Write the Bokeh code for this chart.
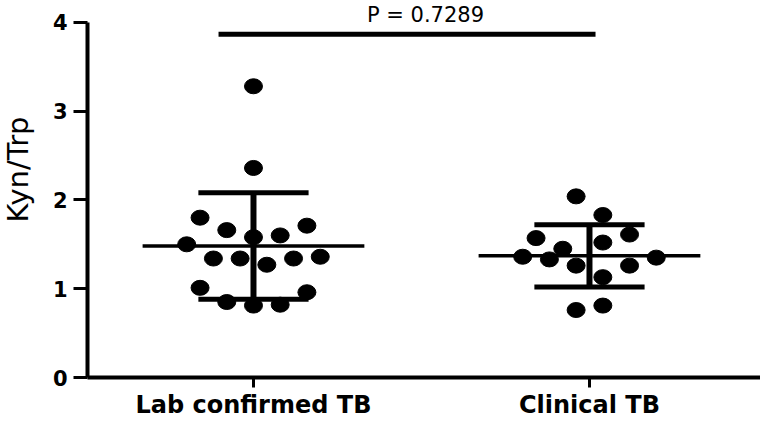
import math
from bokeh.plotting import figure
from bokeh.models import FixedTicker, Label, Range1d
from bokeh.embed import file_html
from bokeh.resources import INLINE

# ---- data ----
groups = ["Lab confirmed TB", "Clinical TB"]
group_pos = [1, 2]

lab_y = [3.28, 2.36, 1.80, 1.66, 1.58, 1.60, 1.71, 1.50, 1.34, 1.34,
         1.27, 1.34, 1.36, 1.01, 0.96, 0.85, 0.81, 0.82]
lab_slot = [0, 0, -2, -1, 0, 1, 2, -2.5, -1.5, -0.5,
            0.5, 1.5, 2.5, -2, 2, -1, 0, 1]

clin_y = [2.04, 1.83, 1.57, 1.61, 1.45, 1.52, 1.36, 1.33, 1.26, 1.26,
          1.35, 1.13, 0.81, 0.76]
clin_slot = [-0.5, 0.5, -2, 1.5, -1, 0.5, -2.5, -1.5, -0.5, 1.5,
             2.5, 0.5, 0.5, -0.5]

means = [1.48, 1.37]
sds = [0.60, 0.35]

p_text = "P = 0.7289"
p_bracket = (0.896, 2.018, 3.866)
y_ticks = [0, 1, 2, 3, 4]
y_title = "Kyn/Trp"

# ---- layout constants ----
slot_w = 0.0795
mean_half = 0.33
cap_half = 0.164
FONT = "DejaVu Sans"

p = figure(width=760, height=421, output_backend="svg", toolbar_location=None,
           x_range=Range1d(0.506, 2.509), y_range=Range1d(0, 4.246),
           min_border_left=87, min_border_right=0, min_border_top=0,
           min_border_bottom=41,
           background_fill_color="white", border_fill_color="white")
p.outline_line_color = None
p.grid.visible = False

# points
lx = [group_pos[0] + s * slot_w for s in lab_slot]
cx = [group_pos[1] + s * slot_w for s in clin_slot]
p.ellipse(lx, lab_y, width=18, height=15, width_units="screen", height_units="screen",
          fill_color="black", line_color="black")
p.ellipse(cx, clin_y, width=18, height=15, width_units="screen", height_units="screen",
          fill_color="black", line_color="black")

# mean lines and SD bars
for g, m, s in zip(group_pos, means, sds):
    p.segment(x0=[g - mean_half], y0=[m], x1=[g + mean_half], y1=[m],
              line_color="black", line_width=3.5)
    p.segment(x0=[g], y0=[m - s], x1=[g], y1=[m + s], line_color="black", line_width=6)
    p.segment(x0=[g - cap_half, g - cap_half], y0=[m - s, m + s],
              x1=[g + cap_half, g + cap_half], y1=[m - s, m + s],
              line_color="black", line_width=5)

# significance bracket
x0, x1, yb = p_bracket
p.segment(x0=[x0], y0=[yb], x1=[x1], y1=[yb], line_color="black", line_width=5)
p.add_layout(Label(x=1.512, y=4.085, text=p_text, text_align="center",
                   text_baseline="alphabetic", text_font=FONT,
                   text_font_size="21px", text_color="black"))

# y-axis title placed in the left side panel
p.add_layout(Label(x=2, x_units="screen", y=208, y_units="screen", text=y_title,
                   angle=math.pi / 2, text_align="center", text_baseline="middle",
                   text_font=FONT, text_font_size="29px", text_color="black"), "left")

# axes
xa = p.xaxis[0]
xa.ticker = FixedTicker(ticks=group_pos)
xa.major_label_overrides = {g: n for g, n in zip(group_pos, groups)}
xa.major_label_text_font = FONT
xa.major_label_text_font_style = "bold"
xa.major_label_text_font_size = "24px"
xa.major_label_text_color = "black"
xa.major_label_standoff = 3
xa.major_tick_out = 10
xa.major_tick_in = 0
xa.major_tick_line_width = 3
xa.axis_line_width = 4
xa.minor_tick_line_color = None

ya = p.yaxis[0]
ya.ticker = FixedTicker(ticks=y_ticks)
ya.bounds = (0, 4)
ya.major_label_text_font = FONT
ya.major_label_text_font_style = "bold"
ya.major_label_text_font_size = "21px"
ya.major_label_text_color = "black"
ya.major_label_standoff = 6
ya.major_tick_out = 14
ya.major_tick_in = 0
ya.major_tick_line_width = 3
ya.axis_line_width = 4
ya.minor_tick_line_color = None

open("out.html", "w").write(file_html(p, INLINE))
